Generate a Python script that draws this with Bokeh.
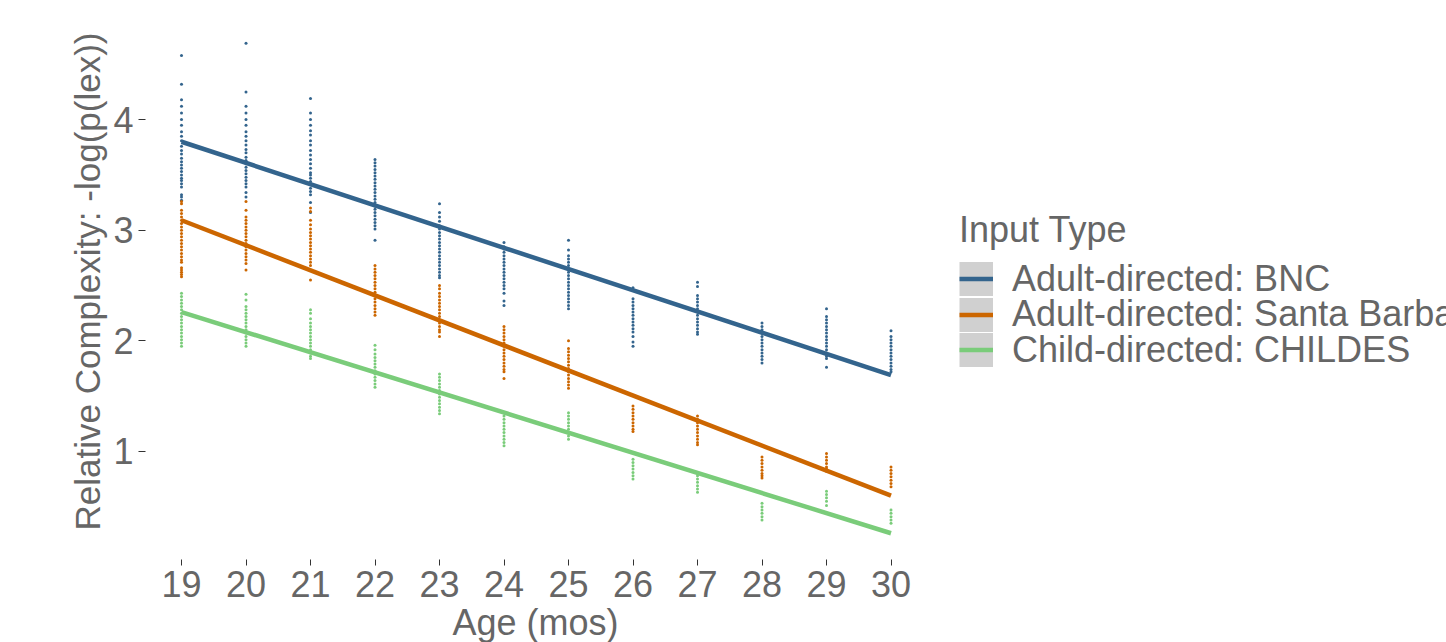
from bokeh.plotting import figure
from bokeh.models import Range1d, FixedTicker, Legend, LegendItem, Title
from bokeh.embed import file_html
from bokeh.resources import INLINE

ages = [19, 20, 21, 22, 23, 24, 25, 26, 27, 28, 29, 30]
age_ticks = ages
y_ticks = [1, 2, 3, 4]

series_names = ["Adult-directed: BNC", "Adult-directed: Santa Barbara", "Child-directed: CHILDES"]
series_colors = ["#33648d", "#cc6600", "#7acc7a"]

bnc_points = [
    [4.58, 4.32, 4.18, 4.12, 4.06, 4.00, 3.95, 3.89, 3.85, 3.81, 3.76, 3.72, 3.69, 3.65, 3.62, 3.59, 3.56, 3.53, 3.50, 3.47, 3.45, 3.42, 3.39, 3.32, 3.30, 3.27],
    [4.69, 4.25, 4.12, 4.06, 4.00, 3.95, 3.89, 3.85, 3.81, 3.77, 3.73, 3.70, 3.66, 3.63, 3.60, 3.57, 3.54, 3.51, 3.48, 3.45, 3.42, 3.39, 3.34, 3.30],
    [4.19, 4.06, 4.00, 3.95, 3.90, 3.86, 3.81, 3.77, 3.72, 3.68, 3.64, 3.60, 3.56, 3.52, 3.50, 3.47, 3.44, 3.41, 3.38, 3.35, 3.32, 3.25, 3.16],
    [3.64, 3.61, 3.58, 3.55, 3.52, 3.49, 3.46, 3.43, 3.40, 3.37, 3.34, 3.31, 3.28, 3.25, 3.22, 3.19, 3.16, 3.13, 3.10, 3.07, 3.04, 3.01, 2.91],
    [3.24, 3.16, 3.12, 3.08, 3.04, 3.01, 2.98, 2.95, 2.92, 2.89, 2.86, 2.83, 2.80, 2.77, 2.74, 2.71, 2.68, 2.65, 2.62, 2.59, 2.57],
    [2.89, 2.85, 2.83, 2.80, 2.77, 2.74, 2.71, 2.68, 2.65, 2.62, 2.59, 2.56, 2.53, 2.50, 2.47, 2.43, 2.36, 2.32],
    [2.91, 2.82, 2.77, 2.74, 2.71, 2.68, 2.65, 2.62, 2.59, 2.56, 2.53, 2.50, 2.47, 2.44, 2.41, 2.38, 2.35, 2.32, 2.29],
    [2.48, 2.38, 2.35, 2.32, 2.29, 2.26, 2.23, 2.20, 2.17, 2.14, 2.11, 2.08, 2.04, 1.99, 1.95],
    [2.53, 2.49, 2.41, 2.38, 2.35, 2.32, 2.29, 2.26, 2.23, 2.20, 2.17, 2.14, 2.11, 2.08, 2.06],
    [2.16, 2.13, 2.10, 2.07, 2.04, 2.01, 1.98, 1.95, 1.92, 1.89, 1.86, 1.83, 1.80],
    [2.29, 2.22, 2.19, 2.16, 2.13, 2.10, 2.07, 2.04, 2.01, 1.98, 1.95, 1.92, 1.89, 1.86, 1.84, 1.76],
    [2.09, 2.04, 2.01, 1.98, 1.95, 1.92, 1.89, 1.86, 1.83, 1.80, 1.77, 1.74, 1.72],
]

sb_points = [
    [3.26, 3.24, 3.18, 3.15, 3.12, 3.09, 3.06, 3.03, 3.00, 2.97, 2.94, 2.91, 2.88, 2.85, 2.82, 2.79, 2.76, 2.73, 2.71, 2.66, 2.64, 2.62, 2.60, 2.58],
    [3.26, 3.18, 3.12, 3.09, 3.06, 3.03, 3.00, 2.97, 2.94, 2.91, 2.88, 2.85, 2.82, 2.79, 2.76, 2.73, 2.70, 2.64],
    [3.20, 3.17, 3.09, 3.05, 3.01, 2.98, 2.95, 2.92, 2.89, 2.86, 2.83, 2.80, 2.77, 2.74, 2.71, 2.68, 2.64, 2.55],
    [2.68, 2.65, 2.62, 2.59, 2.56, 2.53, 2.50, 2.47, 2.44, 2.41, 2.38, 2.35, 2.32, 2.29, 2.26, 2.23],
    [2.50, 2.47, 2.43, 2.40, 2.37, 2.34, 2.31, 2.28, 2.25, 2.22, 2.19, 2.16, 2.13, 2.10, 2.08, 2.04],
    [2.13, 2.10, 2.07, 2.04, 2.01, 1.98, 1.95, 1.92, 1.89, 1.86, 1.83, 1.80, 1.77, 1.74, 1.72, 1.66],
    [2.00, 1.93, 1.90, 1.87, 1.84, 1.81, 1.78, 1.75, 1.72, 1.69, 1.66, 1.63, 1.60, 1.57],
    [1.41, 1.38, 1.35, 1.32, 1.29, 1.26, 1.23, 1.20, 1.18],
    [1.32, 1.29, 1.26, 1.23, 1.20, 1.17, 1.14, 1.11, 1.08, 1.06],
    [0.95, 0.92, 0.89, 0.86, 0.83, 0.80, 0.78, 0.76],
    [0.98, 0.95, 0.92, 0.89, 0.86, 0.84, 0.82],
    [0.86, 0.83, 0.80, 0.77, 0.74, 0.71, 0.68],
]

childes_points = [
    [2.43, 2.40, 2.37, 2.34, 2.31, 2.28, 2.25, 2.22, 2.19, 2.16, 2.13, 2.10, 2.07, 2.04, 2.01, 1.98, 1.95],
    [2.42, 2.37, 2.31, 2.28, 2.25, 2.22, 2.19, 2.16, 2.13, 2.10, 2.07, 2.04, 2.01, 1.98, 1.95],
    [2.28, 2.25, 2.20, 2.16, 2.13, 2.10, 2.07, 2.04, 2.01, 1.98, 1.95, 1.92, 1.89, 1.86, 1.84],
    [1.96, 1.92, 1.88, 1.85, 1.82, 1.79, 1.76, 1.73, 1.70, 1.67, 1.64, 1.61, 1.58],
    [1.70, 1.67, 1.64, 1.61, 1.58, 1.55, 1.52, 1.49, 1.46, 1.43, 1.40, 1.37, 1.34],
    [1.35, 1.32, 1.29, 1.26, 1.23, 1.20, 1.17, 1.14, 1.11, 1.08, 1.05],
    [1.35, 1.32, 1.29, 1.26, 1.23, 1.20, 1.17, 1.14, 1.11],
    [0.93, 0.90, 0.87, 0.84, 0.81, 0.78, 0.75],
    [0.78, 0.75, 0.72, 0.69, 0.66, 0.63],
    [0.53, 0.50, 0.47, 0.44, 0.41, 0.38],
    [0.64, 0.61, 0.58, 0.55, 0.51],
    [0.47, 0.44, 0.41, 0.38, 0.35],
]

fit_ages = [19, 30]
bnc_fit = [3.80, 1.69]
sb_fit = [3.09, 0.60]
childes_fit = [2.26, 0.26]

FONT = "Liberation Sans"
TXT = "#666666"
FS = "36px"

# frame runs from x=145 to the right edge so the legend (cut by the edge) can sit in it;
# 19..30 keep their place with 64.5 px per month
PX_PER_MONTH = 64.5
x_start = 19 - 36 / PX_PER_MONTH
x_end = x_start + (1446 - 145) / PX_PER_MONTH

p = figure(width=1446, height=642, output_backend="svg", toolbar_location=None,
           x_range=Range1d(x_start, x_end), y_range=Range1d(0.0225, 5.05),
           min_border_left=145, min_border_right=0, min_border_top=3, min_border_bottom=81)
p.outline_line_color = None
p.xgrid.visible = False
p.ygrid.visible = False
p.background_fill_color = "white"
p.border_fill_color = "white"

all_points = [bnc_points, sb_points, childes_points]
all_fits = [bnc_fit, sb_fit, childes_fit]
line_renderers = []
for pts, col in zip(all_points, series_colors):
    xs = [a for a, vals in zip(ages, pts) for _ in vals]
    ys = [v for vals in pts for v in vals]
    p.scatter(xs, ys, size=3, fill_color=col, line_color=None)
for fit, col in zip(all_fits, series_colors):
    r = p.line(fit_ages, fit, line_color=col, line_width=4.5)
    line_renderers.append(r)

# grey legend key background (nothing drawn in the plot: NaN coordinates)
nan = float("nan")
key_r = p.line(x=[nan], y=[nan], line_color="#d0d0d0", line_width=34, line_cap="butt")

for ax in (p.xaxis[0], p.yaxis[0]):
    ax.axis_line_color = None
    ax.minor_tick_line_color = None
    ax.major_tick_in = 0
    ax.major_tick_line_color = "#333333"
    ax.major_tick_line_width = 1
    ax.major_label_text_font = FONT
    ax.major_label_text_font_size = FS
    ax.major_label_text_color = TXT
    ax.axis_label_text_font = FONT
    ax.axis_label_text_font_size = "35px"
    ax.axis_label_text_color = TXT
    ax.axis_label_text_font_style = "normal"

p.xaxis.ticker = FixedTicker(ticks=age_ticks)
p.yaxis.ticker = FixedTicker(ticks=y_ticks)
p.yaxis.axis_label = "Relative Complexity: -log(p(lex))"
p.xaxis.major_tick_out = 6
p.xaxis.major_label_standoff = 5
p.yaxis.major_tick_out = 7
p.yaxis.major_label_standoff = 5
p.yaxis.axis_label_standoff = 3

p.add_layout(Title(text="Age (mos)", align="left", offset=307, standoff=0,
                   text_font=FONT, text_font_size=FS, text_color=TXT,
                   text_font_style="normal"), "below")

# one legend per key, stacked 35.5 px apart (ggplot-style tight keys)
legend_x = 814
legend_ys = [259, 223.5, 188]
for i, (name, lr, ly) in enumerate(zip(series_names, line_renderers, legend_ys)):
    kw = {}
    if i == 0:
        kw = dict(title="Input Type", title_text_font=FONT, title_text_font_size=FS,
                  title_text_color=TXT, title_text_font_style="normal", title_standoff=6)
    lg = Legend(items=[LegendItem(label=name, renderers=[key_r, lr])], location=(legend_x, ly),
                label_text_font=FONT, label_text_font_size=FS, label_text_color=TXT,
                glyph_width=34, glyph_height=43, spacing=0, label_standoff=19,
                padding=0, margin=0, border_line_color=None, background_fill_alpha=0, **kw)
    p.add_layout(lg)

open("out.html", "w").write(file_html(p, INLINE))
